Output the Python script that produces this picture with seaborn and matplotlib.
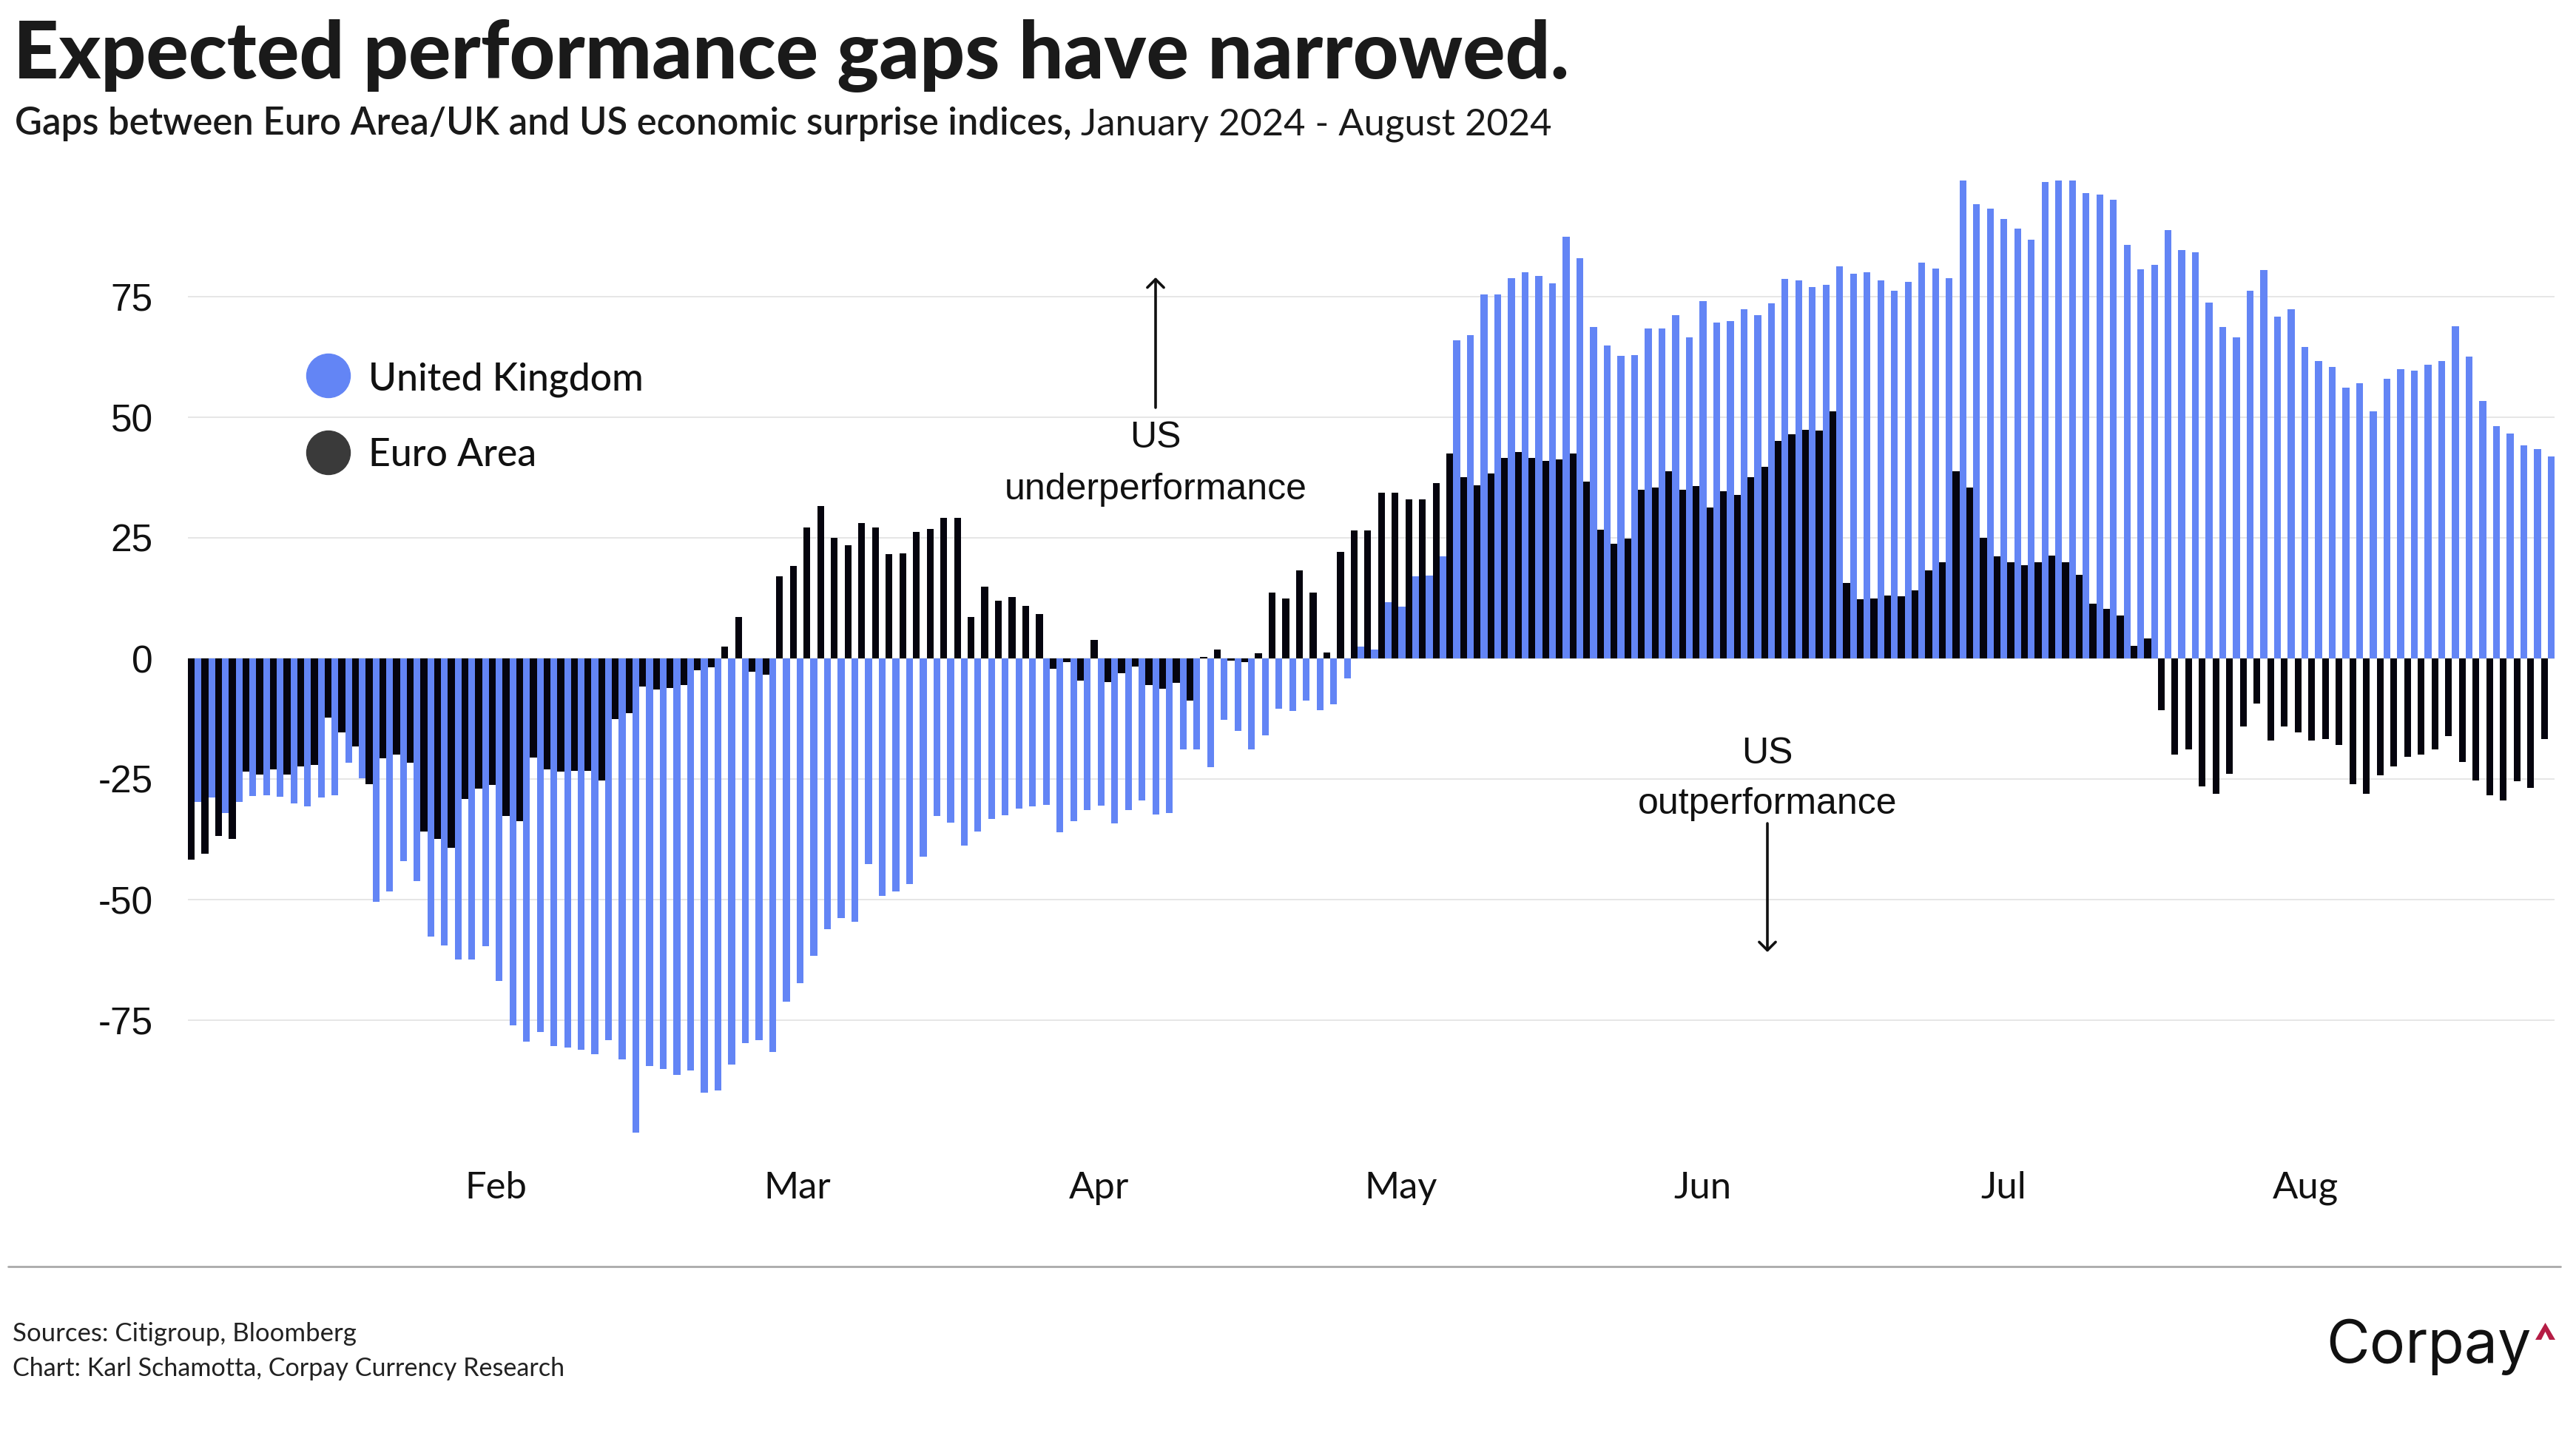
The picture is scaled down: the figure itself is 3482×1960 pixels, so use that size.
import pandas as pd
import matplotlib.pyplot as plt
import seaborn as sns
from matplotlib.lines import Line2D
from matplotlib.patches import Ellipse, Polygon

# ------------------------------------------------------------
# data: gap between Euro Area / UK and US surprise indices
# one value per trading day, Jan 2024 - Aug 2024
# ------------------------------------------------------------
euro_area = [
    -41.7, -40.5, -36.8, -37.5, -23.4, -24.1, -23.0, -24.1, -22.4, -22.1,
    -12.2, -15.4, -18.2, -26.1, -20.7, -19.9, -21.6, -35.9, -37.5, -39.3,
    -29.1, -27.0, -26.3, -32.6, -33.8, -20.5, -23.0, -23.4, -23.3, -23.3,
    -25.3, -12.6, -11.3, -5.9, -6.4, -6.2, -5.5, -2.5, -1.8, 2.4,
    8.6, -2.8, -3.4, 17.1, 19.1, 27.1, 31.6, 25.0, 23.4, 28.0,
    27.1, 21.6, 21.8, 26.3, 26.8, 29.1, 29.1, 8.6, 14.9, 12.0,
    12.8, 10.9, 9.2, -2.2, -0.7, -4.6, 3.9, -4.9, -3.0, -1.7,
    -5.5, -6.3, -5.0, -8.8, 0.3, 1.8, -0.4, -0.8, 1.1, 13.6,
    12.4, 18.3, 13.6, 1.3, 22.1, 26.6, 26.6, 34.3, 34.3, 33.0,
    32.9, 36.3, 42.5, 37.5, 35.9, 38.3, 41.6, 42.8, 41.6, 40.9,
    41.2, 42.5, 36.7, 26.7, 23.8, 24.9, 34.9, 35.4, 38.8, 34.9,
    35.8, 31.3, 34.6, 33.9, 37.6, 39.7, 45.1, 46.4, 47.4, 47.2,
    51.2, 15.6, 12.2, 12.4, 13.0, 12.9, 14.1, 18.3, 19.9, 38.8,
    35.4, 25.0, 21.2, 20.0, 19.3, 20.0, 21.3, 20.0, 17.4, 11.3,
    10.3, 8.9, 2.6, 4.2, -10.7, -20.0, -18.9, -26.6, -28.0, -23.9,
    -14.1, -9.3, -17.0, -14.1, -15.4, -17.0, -16.7, -18.0, -26.1, -28.0,
    -24.2, -22.4, -20.4, -19.9, -18.8, -16.1, -21.4, -25.3, -28.4, -29.5,
    -25.4, -26.8, -16.7,
]

united_kingdom = [
    -29.7, -28.9, -32.1, -29.7, -28.6, -28.4, -28.7, -30.0, -30.7, -28.9,
    -28.4, -21.7, -24.9, -50.5, -48.3, -42.1, -46.1, -57.6, -59.5, -62.5,
    -62.4, -59.7, -66.8, -76.1, -79.5, -77.4, -80.4, -80.7, -81.2, -82.1,
    -79.2, -83.2, -98.3, -84.5, -85.1, -86.4, -85.4, -90.1, -89.5, -84.2,
    -79.7, -79.2, -81.6, -71.2, -67.4, -61.6, -56.1, -53.8, -54.6, -42.6,
    -49.2, -48.3, -46.8, -41.1, -32.6, -34.1, -38.8, -35.9, -33.3, -32.5,
    -31.1, -30.7, -30.4, -36.1, -33.8, -31.4, -30.5, -34.2, -31.4, -29.5,
    -32.4, -32.1, -18.9, -18.9, -22.5, -12.8, -15.0, -18.9, -15.9, -10.4,
    -10.9, -8.7, -10.7, -9.5, -4.2, 2.5, 1.8, 11.7, 10.8, 17.1,
    17.2, 21.1, 65.9, 67.0, 75.4, 75.5, 78.8, 80.1, 79.3, 77.8,
    87.4, 82.9, 68.7, 64.9, 62.8, 62.9, 68.4, 68.4, 71.1, 66.6,
    74.1, 69.6, 70.0, 72.4, 71.2, 73.6, 78.7, 78.3, 77.0, 77.4,
    81.3, 79.7, 80.0, 78.3, 76.2, 78.0, 82.0, 80.9, 78.8, 99.1,
    94.1, 93.2, 91.1, 89.1, 86.8, 98.8, 99.1, 99.1, 96.4, 96.2,
    95.1, 85.7, 80.7, 81.6, 88.8, 84.6, 84.2, 73.7, 68.7, 66.6,
    76.3, 80.5, 70.9, 72.4, 64.6, 61.6, 60.5, 56.2, 57.0, 51.2,
    57.9, 59.9, 59.7, 60.9, 61.7, 68.9, 62.6, 53.3, 48.2, 46.7,
    44.2, 43.4, 41.8,
]

month_labels = ["Feb", "Mar", "Apr", "May", "Jun", "Jul", "Aug"]
month_ticks = [22.0, 44.05, 66.1, 88.15, 110.2, 132.25, 154.3]
y_ticks = [-75, -50, -25, 0, 25, 50, 75]

n = len(euro_area)
df = pd.DataFrame({
    "day": list(range(n)) * 2,
    "gap": euro_area + united_kingdom,
    "series": ["Euro Area"] * n + ["United Kingdom"] * n,
})

BLUE = "#6385F5"
DARK = "#05040E"

W, H = 3482, 1960


def fx(px):
    return px / W


def fy(py):
    return 1 - py / H


sns.set_theme(style="white")
plt.rcParams["font.family"] = ["Lato", "DejaVu Sans"]

fig = plt.figure(figsize=(W / 100, H / 100), dpi=100)
ax = fig.add_axes([fx(254), fy(1574.6), (3453 - 254) / W, (1574.6 - 238) / H])

sns.barplot(
    data=df,
    x="day",
    y="gap",
    hue="series",
    hue_order=["Euro Area", "United Kingdom"],
    palette={"Euro Area": DARK, "United Kingdom": BLUE},
    width=1.0,
    saturation=1,
    errorbar=None,
    linewidth=0,
    legend=False,
    ax=ax,
    zorder=3,
)

ax.set_xlim(-0.5, n - 0.5)
ax.set_ylim(-105, 100)
ax.set_yticks(y_ticks)
ax.set_yticklabels([str(v) for v in y_ticks], fontsize=37,
                   family=["Liberation Sans", "DejaVu Sans"], color="#111111")
ax.set_xticks(month_ticks)
ax.set_xticklabels(month_labels, fontsize=36.5, color="#111111")
ax.tick_params(axis="y", length=0, pad=34)
ax.tick_params(axis="x", length=0, pad=6)
ax.grid(axis="y", color="#E4E4E4", linewidth=1.3, zorder=0)
ax.grid(axis="x", visible=False)
ax.set_xlabel("")
ax.set_ylabel("")
for s in ax.spines.values():
    s.set_visible(False)

# ---------------- titles ----------------
fig.text(fx(18), fy(106), "Expected performance gaps have narrowed.",
         fontsize=77, fontweight="black", color="#1a1a1a", va="baseline")
sub1 = fig.text(fx(20), fy(182), "Gaps between Euro Area/UK and US economic surprise indices,",
                fontsize=36.5, fontweight="semibold", color="#1a1a1a", va="baseline")
fig.canvas.draw()
bb = sub1.get_window_extent()
fig.text(bb.x1 / W + fx(12), fy(182), "January 2024 - August 2024",
         fontsize=36.5, color="#1a1a1a", va="baseline")

# ---------------- legend ----------------
for cy, col, label, base in [(508, BLUE, "United Kingdom", 527),
                             (612, "#3A3A3A", "Euro Area", 630)]:
    fig.add_artist(Ellipse((fx(444), fy(cy)), 59 / W, 59 / H,
                           transform=fig.transFigure, color=col))
    fig.text(fx(498), fy(base), label, fontsize=37.2, fontweight="medium",
             color="#111111", va="baseline")

# ---------------- annotations ----------------
ann_font = ["Liberation Sans", "DejaVu Sans"]
arrow = dict(arrowstyle="->,head_length=0.4,head_width=0.4", color="#111111",
             lw=2.6, mutation_scale=20, shrinkA=0, shrinkB=0)
ax.annotate("", xy=(fx(1562), fy(375)), xytext=(fx(1562), fy(551)),
            xycoords="figure fraction", textcoords="figure fraction", arrowprops=arrow)
fig.text(fx(1562), fy(605), "US", ha="center", va="baseline", fontsize=36,
         family=ann_font, color="#111111")
fig.text(fx(1562), fy(675), "underperformance", ha="center", va="baseline",
         fontsize=36, family=ann_font, color="#111111")

fig.text(fx(2389), fy(1032), "US", ha="center", va="baseline", fontsize=36,
         family=ann_font, color="#111111")
fig.text(fx(2389), fy(1100), "outperformance", ha="center", va="baseline",
         fontsize=36, family=ann_font, color="#111111")
ax.annotate("", xy=(fx(2389), fy(1287)), xytext=(fx(2389), fy(1113)),
            xycoords="figure fraction", textcoords="figure fraction", arrowprops=arrow)

# ---------------- footer ----------------
fig.add_artist(Line2D([fx(11), fx(3461)], [fy(1712), fy(1712)],
                      color="#AAAAAA", linewidth=2))
fig.text(fx(17), fy(1813), "Sources: Citigroup, Bloomberg",
         fontsize=25, color="#222222", va="baseline")
fig.text(fx(17), fy(1860), "Chart: Karl Schamotta, Corpay Currency Research",
         fontsize=24.6, color="#222222", va="baseline")

fig.text(fx(3422), fy(1842), "Corpay", ha="right", va="baseline", fontsize=58,
         family=["Inter", "DejaVu Sans"], color="#111111")
caret = [(3427, 1811), (3440.5, 1788), (3454, 1811), (3446, 1811),
         (3440.5, 1800), (3435, 1811)]
fig.add_artist(Polygon([(fx(x), fy(y)) for x, y in caret], closed=True,
                       transform=fig.transFigure, color="#B51C45", linewidth=0))

fig.savefig("out.png", dpi=100)
